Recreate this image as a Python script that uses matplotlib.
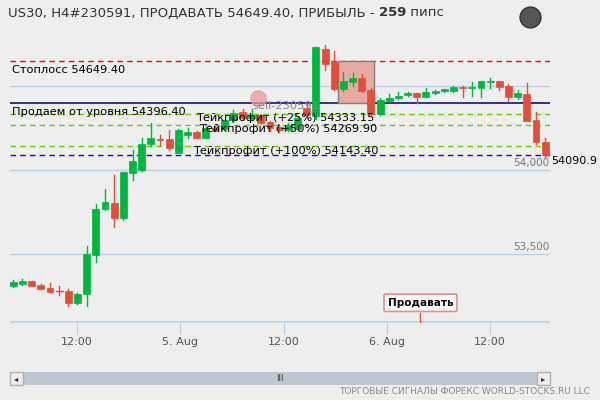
import matplotlib
matplotlib.use("Agg")
import matplotlib.pyplot as plt
from matplotlib.patches import Rectangle

opens  = [53311,53323,53340,53316,53300,53280,53280,53210,53261,53496,53768,53804,53716,53984,54000,54153,54185,54184,54103,54208,
          54225,54193,54248,54242,54297,54347,54307,54327,54287,54258,54240,54242,54367,54321,54720,54641,54482,54525,54549,54476,
          54333,54410,54426,54446,54456,54436,54456,54470,54470,54495,54485,54486,54522,54530,54500,54436,54452,54297,54168]
highs  = [53344,53350,53342,53323,53325,53312,53290,53270,53547,53797,53887,53970,53990,54119,54190,54278,54208,54238,54245,54250,
          54232,54255,54262,54300,54357,54360,54360,54335,54292,54265,54280,54320,54400,54730,54745,54706,54583,54579,54571,54490,
          54428,54450,54465,54462,54460,54490,54478,54484,54500,54498,54523,54532,54545,54532,54510,54475,54518,54345,54190]
lows   = [53306,53318,53310,53292,53274,53256,53193,53205,53190,53455,53760,53662,53702,53940,53995,54142,54150,54120,54100,54190,
          54190,54190,54230,54238,54292,54300,54300,54275,54230,54235,54235,54238,54310,54305,54595,54475,54470,54500,54465,54330,
          54330,54405,54420,54440,54400,54432,54452,54466,54466,54436,54440,54432,54490,54475,54410,54420,54440,54155,54078]
closes = [53332,53340,53312,53294,53276,53278,53210,53260,53500,53768,53810,53716,53988,54055,54153,54189,54180,54129,54238,54228,
          54193,54248,54234,54297,54337,54307,54327,54281,54248,54240,54270,54307,54327,54730,54631,54482,54531,54549,54472,54333,
          54416,54426,54442,54458,54436,54462,54472,54480,54495,54485,54495,54530,54532,54496,54436,54456,54293,54168,54091]

tick_pos = [6.95, 18.2, 29.5, 40.7, 52.0]
tick_labels = ["12:00", "5. Aug", "12:00", "6. Aug", "12:00"]
grid_levels = [53500, 54000, 54500]
stop_loss = 54649.40
entry = 54396.40
tp_levels = [54333.15, 54269.90, 54143.40]
current = 54090.9

GREEN = "#00b640"
RED = "#e04e3c"
BG = "#eeeeee"

fig = plt.figure(figsize=(6, 4), dpi=100, facecolor=BG)
ax = fig.add_axes([10/600, 1-323/400, 540/600, 293/400], facecolor=BG)
ax.set_xlim(-0.36, 58.53)
ax.set_ylim(53089.6, 54833)
for s in ax.spines.values():
    s.set_visible(False)
ax.set_yticks([])
ax.set_xticks(tick_pos)
ax.set_xticklabels(tick_labels, fontsize=8, color="#555555")
ax.tick_params(axis="x", length=8, color="#c0d0e0", pad=2)

for g in grid_levels:
    ax.axhline(g, color="#c0d0e0", lw=1, zorder=0)
ax.axhline(53089.6 + 3, color="#c0d0e0", lw=1.2, zorder=0)

ax.axhline(stop_loss, color="#ff0000", lw=1, ls=(0, (4, 3)), zorder=1)
ax.axhline(entry, color="#10107a", lw=1.2, zorder=1)
for t in tp_levels:
    ax.axhline(t, color="#66cc00", lw=1, ls=(0, (4, 3)), zorder=1)
ax.axhline(current, color="#1010c0", lw=1, ls=(0, (4, 3)), zorder=1)

ax.add_patch(Rectangle((35.4, entry), 3.9, stop_loss-entry, facecolor="#e8aaa4", edgecolor="#808080", lw=1, zorder=1))

w = 0.75
for i, (o, h, l, c) in enumerate(zip(opens, highs, lows, closes)):
    col = GREEN if c >= o else RED
    ax.plot([i, i], [l, h], color=col, lw=1, zorder=3)
    bot, top = min(o, c), max(o, c)
    if top - bot < 3:
        ax.plot([i-w/2, i+w/2], [o, o], color=col, lw=1, zorder=3)
    else:
        ax.add_patch(Rectangle((i-w/2, bot), w, top-bot, facecolor=col, edgecolor=col, lw=0.5, zorder=3))

fs = 8.2
ax.text(-0.1, stop_loss-25, "Стоплосс 54649.40", fontsize=fs, va="top", zorder=5)
ax.text(-0.1, entry-22, "Продаем от уровня 54396.40", fontsize=fs, va="top", zorder=5)
ax.text(19.9, tp_levels[0]-55, "Тейкпрофит (+25%) 54333.15", fontsize=fs, va="bottom", zorder=5)
ax.text(20.3, tp_levels[1]-55, "Тейкпрофит (+50%) 54269.90", fontsize=fs, va="bottom", zorder=5)
ax.text(19.6, tp_levels[2]-30, "Тейкпрофит (+100%) 54143.40", fontsize=fs, va="center", zorder=5)
ax.plot([26.7], [54430], marker="o", ms=11, color="#e8a0a0", alpha=0.8, zorder=4)
ax.text(26.1, 54380, "sell-230591", fontsize=fs, color="#888888", va="center", zorder=5)

ax.text(58.5, 54040, "54,000", fontsize=7.5, color="#777777", ha="right", va="center")
ax.text(58.5, 53540, "53,500", fontsize=7.5, color="#777777", ha="right", va="center")
ax.text(58.65, current-40, "54090.9", fontsize=8, color="black", ha="left", va="center", clip_on=False)

ax.plot([44.4, 44.4], [53089.6, 53150], color=RED, lw=1, zorder=4)
ax.text(44.4, 53210, "Продавать", fontsize=7.5, fontweight="bold", ha="center", va="center", zorder=5,
        bbox=dict(boxstyle="round,pad=0.35,rounding_size=0.15", fc="white", ec="#e09090", lw=1.2))

r = fig.canvas.get_renderer()
x = 8/600
parts = [("US30, H4#230591, ПРОДАВАТЬ 54649.40, ПРИБЫЛЬ - ", "normal"), ("259", "bold"), (" пипс", "normal")]
for txt, wt in parts:
    t = fig.text(x, 1-13/400, txt, fontsize=9.5, fontweight=wt, color="#333333", va="center")
    bb = t.get_window_extent(renderer=r)
    x += bb.width/600

fig.add_artist(plt.Line2D([530/600], [1-17/400], marker="o", ms=15, color="#555555", mec="#333333", transform=fig.transFigure))

fig.patches.append(Rectangle((10/600, 1-385/400), 540/600, 13/400, transform=fig.transFigure, facecolor="#c0c7d0", edgecolor="none"))
fig.patches.append(Rectangle((10/600, 1-385/400), 13/600, 13/400, transform=fig.transFigure, facecolor="#eeeeee", edgecolor="#b0b0b0"))
fig.patches.append(Rectangle((537/600, 1-385/400), 13/600, 13/400, transform=fig.transFigure, facecolor="#eeeeee", edgecolor="#b0b0b0"))
fig.text(16.5/600, 1-378.5/400, "◂", fontsize=6, ha="center", va="center", color="#333333")
fig.text(543.5/600, 1-378.5/400, "▸", fontsize=6, ha="center", va="center", color="#333333")
fig.text(280/600, 1-378.5/400, "III", fontsize=6, ha="center", va="center", color="#333333")
fig.text(590/600, 1-392/400, "ТОРГОВЫЕ СИГНАЛЫ ФОРЕКС WORLD-STOCKS.RU LLC", fontsize=6.5, ha="right", va="center", color="#888888")

fig.savefig("out.png", dpi=100, facecolor=BG)
